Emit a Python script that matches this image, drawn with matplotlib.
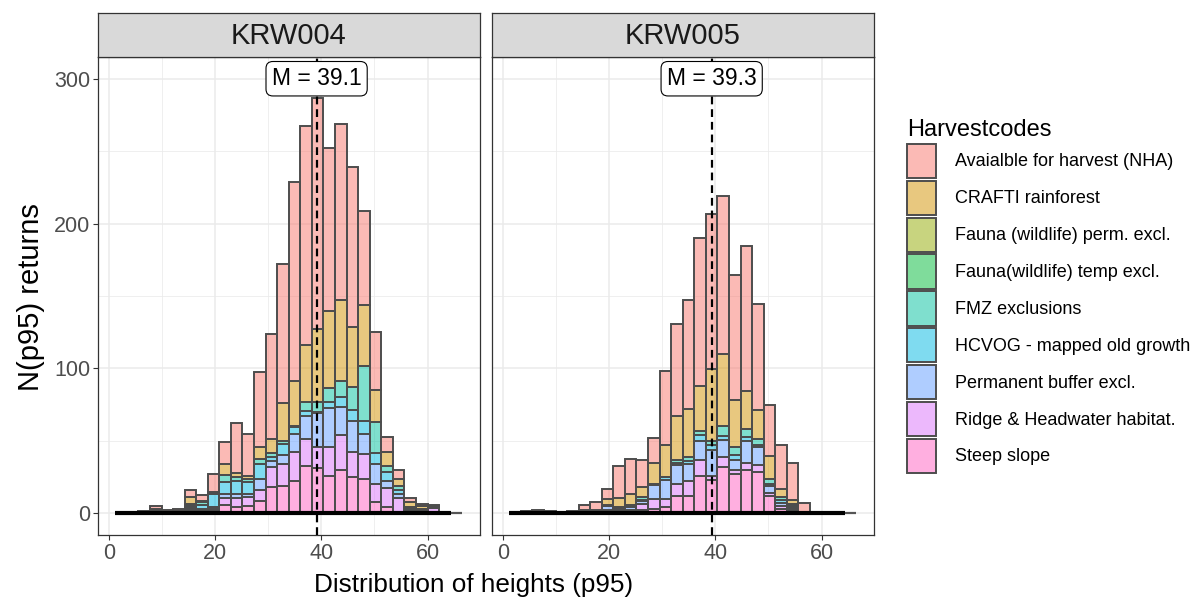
import numpy as np
import matplotlib.pyplot as plt
from matplotlib.colors import to_rgba
from matplotlib.patches import Patch

plt.rcParams['font.family'] = ['Liberation Sans', 'DejaVu Sans']

# histogram bins (30 bins, shared by both facets)
bin_start = 1.15
bin_width = 2.18
n_bins = 30

sites = ['KRW004', 'KRW005']
site_means = [39.1, 39.3]

codes = ['Avaialble for harvest (NHA)', 'CRAFTI rainforest', 'Fauna (wildlife) perm. excl.',
         'Fauna(wildlife) temp excl.', 'FMZ exclusions', 'HCVOG - mapped old growth',
         'Permanent buffer excl.', 'Ridge & Headwater habitat.', 'Steep slope']
code_colours = ['#F8766D', '#D39200', '#93AA00', '#00BA38', '#00C19F',
                '#00B9E3', '#619CFF', '#DB72FB', '#FF61C3']

# counts per bin - KRW004
krw004_avail = [0.5, 0.5, 1, 2, 1, 1.5, 4.6, 4, 12, 15.4, 34.5, 29.5, 51.8, 72, 96, 138, 151, 160, 113, 121, 110.5, 64.5, 40, 10.5, 6, 3, 1.5, 1, 0, 0]
krw004_crafti = [0, 0, 0, 1, 0, 0, 4.6, 1, 1, 7.6, 2.5, 1.5, 8, 10, 26, 31, 40, 50, 53, 56, 41.5, 42.5, 22, 10, 5, 3, 2, 0.5, 0, 0]
krw004_fperm = [0] * 30
krw004_ftemp = [0] * 30
krw004_fmz = [0, 0, 0, 0, 0, 0, 1.7, 1.5, 1, 4.6, 3, 2.5, 3.4, 2.5, 2, 0.5, 6, 7, 10, 11, 16, 38, 21.5, 4, 3, 1, 1, 0, 0, 0]
krw004_hcvog = [0, 0, 0, 0, 0, 0.5, 1.3, 3, 9, 8, 9, 8.5, 10.4, 3, 8, 4.5, 3.5, 1, 4, 7, 7, 8.5, 7.5, 6, 2.5, 1, 0.5, 0.5, 0, 0]
krw004_perm = [0, 0, 0, 1, 0, 0, 1.2, 1, 1, 2.8, 2.5, 2, 8, 4, 6, 13, 16, 23, 26.5, 19.5, 22, 14, 13.5, 5, 3, 1, 0.5, 0.5, 0, 0]
krw004_ridge = [0, 0, 0, 0, 0, 0, 1, 1, 1.5, 5.3, 6, 6, 7.4, 14, 15, 20, 18.5, 15, 20, 24, 17, 17, 12.5, 13, 9.5, 1, 0.5, 3.5, 0, 0]
krw004_steep = [0, 0, 0.5, 1, 1, 1, 1.5, 1, 1.5, 5.5, 4.5, 5, 8.5, 18, 19, 22, 32.5, 31, 26, 30, 25, 24, 8, 4.5, 1, 0.5, 0.5, 0, 0, 0]

# KRW005
krw005_avail = [0.5, 1.5, 2, 1.5, 0.5, 1.5, 3, 5, 7, 22, 24, 19, 17, 51, 64, 75, 102, 107, 109, 86, 100, 73.5, 35, 30, 26, 6, 0, 0, 0, 0]
krw005_crafti = [0, 0, 0, 0, 0, 0, 1, 1.5, 4, 6.5, 8, 7, 14.5, 22, 30, 33, 31, 49.5, 50, 33, 26.5, 19.5, 15.5, 5.5, 2.5, 0, 0, 0, 0, 0]
krw005_fperm = [0] * 30
krw005_ftemp = [0] * 30
krw005_fmz = [0, 0, 0, 0, 0, 0, 0, 0, 0, 0, 1, 1.5, 0, 0, 2, 3, 3, 3, 6.5, 5.5, 5, 4.5, 3.5, 2.5, 1.5, 0, 0, 0, 0, 0]
krw005_hcvog = [0, 0, 0, 0, 0, 0, 0, 0, 1, 0.5, 0, 1, 1, 2, 2, 2, 4, 3, 3, 3, 3, 1, 1.5, 2, 1.5, 0, 0, 0, 0, 0]
krw005_perm = [0, 0, 0, 0, 0, 0, 0.5, 1, 3, 1.5, 2, 2, 9.5, 13, 13, 12, 13.5, 18, 11.5, 7, 15, 13, 5, 2, 1.5, 0, 0, 0, 0, 0]
krw005_ridge = [0, 0, 0, 0, 0, 0, 0, 0, 1, 1, 1, 4, 7, 6, 8, 10, 10.5, 3, 7, 3, 5, 4.5, 2, 2, 1, 0, 0, 0, 0, 0]
krw005_steep = [0, 0, 0, 0, 0, 0, 1, 0, 1, 1, 1.5, 2.5, 3, 4, 12, 12, 26, 23, 32, 27, 30, 28.5, 12, 3, 1, 1, 0, 0, 0, 0]

site_counts = {
    'KRW004': [krw004_avail, krw004_crafti, krw004_fperm, krw004_ftemp, krw004_fmz,
               krw004_hcvog, krw004_perm, krw004_ridge, krw004_steep],
    'KRW005': [krw005_avail, krw005_crafti, krw005_fperm, krw005_ftemp, krw005_fmz,
               krw005_hcvog, krw005_perm, krw005_ridge, krw005_steep],
}

edge_col = '#4D4D4D'
grid_col = '#EBEBEB'
frame_col = '#333333'

fig = plt.figure(figsize=(12.01, 5.99), dpi=100)
panel_left = [98 / 1201, 492 / 1201]
panel_w = 381.5 / 1201
panel_b = 1 - 535 / 599
panel_h = 478 / 599

edges = bin_start + bin_width * np.arange(n_bins)

for i, site in enumerate(sites):
    ax = fig.add_axes([panel_left[i], panel_b, panel_w, panel_h])
    bottom = np.zeros(n_bins)
    # ggplot stacks the last level at the bottom
    for vals, col in zip(reversed(site_counts[site]), reversed(code_colours)):
        vals = np.array(vals, dtype=float)
        ax.bar(edges, vals, width=bin_width, bottom=bottom, align='edge',
               facecolor=to_rgba(col, 0.5), edgecolor=edge_col, linewidth=1.4, zorder=2)
        bottom += vals
    # empty bins show up as a heavy line along zero
    ax.plot([edges[0], edges[-1]], [0, 0], color='black', lw=3.0,
            solid_capstyle='butt', zorder=3)
    ax.plot([edges[-1], edges[-1] + bin_width], [0, 0], color='#555555', lw=1.6,
            solid_capstyle='butt', zorder=3)

    m = site_means[i]
    ax.axvline(m, color='black', ls=(0, (3.5, 2.2)), lw=1.6, zorder=4)
    ax.text(m, 300, 'M = %.1f' % m, ha='center', va='center', fontsize=16.5, color='black',
            zorder=5, bbox=dict(boxstyle='round,pad=0.25,rounding_size=0.3',
                                fc='white', ec='black', lw=0.8))

    ax.set_xlim(-2.1, 69.8)
    ax.set_ylim(-15, 315)
    ax.set_xticks([0, 20, 40, 60])
    ax.set_xticks([10, 30, 50], minor=True)
    ax.set_yticks([0, 100, 200, 300])
    ax.set_yticks([50, 150, 250], minor=True)
    ax.grid(which='major', color=grid_col, lw=1.1)
    ax.grid(which='minor', color=grid_col, lw=0.55)
    ax.set_axisbelow(True)
    ax.tick_params(which='minor', length=0)
    ax.tick_params(which='major', length=3.5, width=0.8, color=frame_col,
                   labelsize=15.5, labelcolor='#4D4D4D', pad=2)
    if i == 1:
        ax.tick_params(left=False, labelleft=False)
    for s in ax.spines.values():
        s.set_color(frame_col)
        s.set_linewidth(0.9)

    sax = fig.add_axes([panel_left[i], 1 - 57 / 599, panel_w, 44 / 599])
    sax.set_facecolor('#D9D9D9')
    sax.set_xticks([])
    sax.set_yticks([])
    for s in sax.spines.values():
        s.set_color(frame_col)
        s.set_linewidth(0.9)
    sax.text(0.5, 0.48, site, ha='center', va='center', fontsize=21, color='#1A1A1A',
             transform=sax.transAxes)

fig.text(31 / 1201, 1 - 297 / 599, 'N(p95) returns', rotation=90, ha='center',
         va='center', fontsize=21)
fig.text(474 / 1201, 1 - 585 / 599, 'Distribution of heights (p95)', ha='center',
         va='center', fontsize=18.8)

handles = [Patch(facecolor=to_rgba(c, 0.5), edgecolor=edge_col, linewidth=1.4)
           for c in code_colours]
leg = fig.legend(handles, codes, loc='upper left', bbox_to_anchor=(900 / 1201, 1 - 112 / 599),
                 frameon=False, title='Harvestcodes', title_fontsize=17, fontsize=13,
                 handlelength=1.62, handleheight=2.55, labelspacing=0.14,
                 handletextpad=1.05, alignment='left', borderaxespad=0)

fig.savefig('out.png', dpi=100)
